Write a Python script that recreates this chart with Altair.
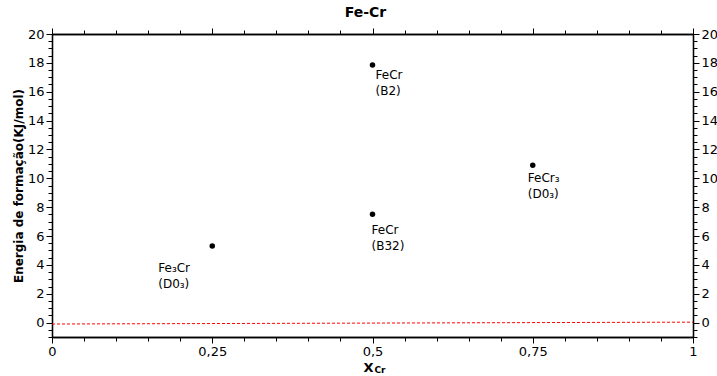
import altair as alt
import pandas as pd

# ---- data ----
X_VALUES = [0.25, 0.5, 0.5, 0.75]
Y_VALUES = [5.3, 17.85, 7.5, 10.9]
LABELS = ["Fe₃Cr\n(D0₃)", "FeCr\n(B2)", "FeCr\n(B32)", "FeCr₃\n(D0₃)"]

REF_X = [0, 1]
REF_Y = [-0.1, 0.03]

X_MAJOR = [0, 0.25, 0.5, 0.75, 1]
X_MINOR = [round(i * 0.05, 2) for i in range(21)]
Y_MAJOR = [0, 2, 4, 6, 8, 10, 12, 14, 16, 18, 20]
Y_MINOR = [i * 0.5 for i in range(-2, 41)]

# label placement (style): dx, dy in pixels from the point
LABEL_OFFSETS = [(-54, 17), (3, 5), (-1, 11), (-5, 8)]

FONT = "DejaVu Sans"

pts = pd.DataFrame({"x": X_VALUES, "y": Y_VALUES, "label": LABELS})
ref = pd.DataFrame({"x": REF_X, "y": REF_Y})

xs = alt.Scale(domain=[0, 1], nice=False, zero=False)
ys = alt.Scale(domain=[-1, 20], nice=False, zero=False)

label_expr = "replace(toString(datum.value), '.', ',')"

x_axis_main = alt.Axis(
    orient="bottom", values=X_MAJOR, tickSize=6, labelExpr=label_expr,
    labelOverlap=False, labelFlush=False,
    title="X", titleFontSize=13, titleFontWeight="bold", titleAlign="right",
    titleX=321, titleY=34, titleBaseline="alphabetic", labelPadding=2)
y_axis_main = alt.Axis(
    orient="left", values=Y_MAJOR, tickSize=6, labelPadding=2,
    labelOverlap=False, labelFlush=False,
    title="Energia de formação(KJ/mol)", titleFontSize=12,
    titleFontWeight="bold", titlePadding=2)

def xm():
    return alt.X("x:Q", scale=xs, axis=x_axis_main)

def ym():
    return alt.Y("y:Q", scale=ys, axis=y_axis_main)

line = alt.Chart(ref).mark_line(color="red", strokeDash=[3, 2], strokeWidth=1).encode(
    x=xm(), y=ym())
dots = alt.Chart(pts).mark_circle(size=30, color="black", opacity=1).encode(
    x=xm(), y=ym())

texts = []
for i, (dx, dy) in enumerate(LABEL_OFFSETS):
    texts.append(
        alt.Chart(pts.iloc[[i]]).mark_text(
            align="left", baseline="top", dx=dx, dy=dy, lineBreak="\n",
            lineHeight=16, fontSize=12, font=FONT, color="black"
        ).encode(x=xm(), y=ym(), text="label:N")
    )

main = alt.layer(line, dots, *texts)

def axis_layer(xaxis, yaxis):
    return alt.Chart(pts).mark_point(opacity=0).encode(
        x=alt.X("x:Q", scale=xs, axis=xaxis),
        y=alt.Y("y:Q", scale=ys, axis=yaxis),
    )

minor_bl = axis_layer(
    alt.Axis(orient="bottom", values=X_MINOR, tickSize=4, labels=False,
             title="Cr", titleFontSize=9, titleFontWeight="bold", titleAlign="left",
             titleX=322, titleY=35, titleBaseline="alphabetic"),
    alt.Axis(orient="left", values=Y_MINOR, tickSize=4, labels=False, title=None),
)
major_tr = axis_layer(
    alt.Axis(orient="top", values=X_MAJOR, tickSize=6, labels=False, title=None),
    alt.Axis(orient="right", values=Y_MAJOR, tickSize=6, labelPadding=2,
             labelOverlap=False, labelFlush=False, title=None),
)
minor_tr = axis_layer(
    alt.Axis(orient="top", values=X_MINOR, tickSize=4, labels=False, title=None),
    alt.Axis(orient="right", values=Y_MINOR, tickSize=4, labels=False, title=None),
)

chart = alt.layer(main, minor_bl, major_tr, minor_tr).resolve_scale(
    x="independent", y="independent"
).properties(
    width=641, height=303,
    padding={"left": 52, "top": 34, "right": 24, "bottom": 39},
    autosize=alt.AutoSizeParams(type="none"),
    title=alt.TitleParams("Fe-Cr", font=FONT, fontSize=14, fontWeight="bold",
                          color="black", anchor="middle", offset=8, dx=-7),
).configure_view(stroke=None).configure_axis(
    grid=False, domainColor="black", domainWidth=1.3, tickColor="black",
    tickWidth=1, labelColor="black", labelFont=FONT, labelFontSize=13,
    titleColor="black", titleFont=FONT,
)

chart.save("out.html", embed_options={"renderer": "svg", "actions": False})
